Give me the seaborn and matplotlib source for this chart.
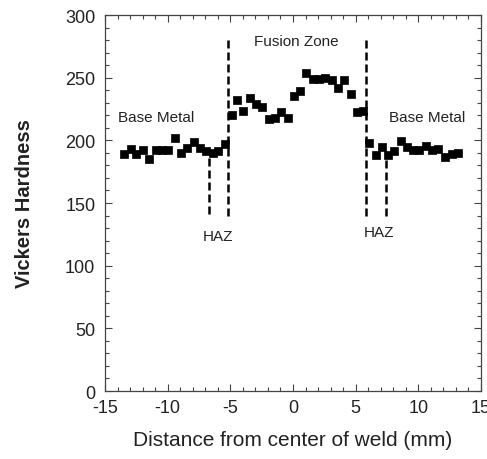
import matplotlib
matplotlib.use("Agg")
import matplotlib.pyplot as plt
from matplotlib.ticker import MultipleLocator
import seaborn as sns
import pandas as pd

# Microhardness traverse across the weld
distance_mm = [-13.5, -12.95, -12.5, -12.0, -11.47, -10.93, -10.48, -9.95, -9.42,
               -8.94, -8.44, -7.9, -7.42, -6.94, -6.4, -5.96, -5.43, -4.89,
               -4.44, -3.97, -3.43, -2.95, -2.45, -1.92, -1.44, -0.96, -0.42,
               0.08, 0.56, 1.07, 1.6, 2.08, 2.58, 3.09, 3.57, 4.1, 4.6, 5.08,
               5.6, 6.09, 6.6, 7.08, 7.6, 8.09, 8.6, 9.07, 9.55, 10.06, 10.59,
               11.07, 11.6, 12.13, 12.67, 13.2]
hardness_hv = [189, 193, 189, 192, 185, 192, 192, 192, 202,
               190, 193.5, 199, 193.5, 191.6, 190, 191.6, 197, 220,
               232, 223.5, 233.7, 228.8, 227, 217, 217.5, 223, 217.5,
               235.5, 239.5, 254, 249, 249, 249.6, 248, 242, 248, 237, 222.8,
               223.3, 198, 188.7, 194.8, 188.7, 191.6, 199.6, 194.3, 192.5, 192.5, 195.4,
               192.5, 193, 186.8, 189, 190.3]

# Zone boundaries (dashed markers)
boundary_x = [-6.7, -5.2, 5.85, 7.4]
boundary_top = [190, 282, 281, 189]
boundary_bottom = [141, 140, 140, 140]

# Annotations
label_text = ["Base Metal", "Fusion Zone", "Base Metal", "HAZ", "HAZ"]
label_x = [-10.9, 0.3, 10.7, -6.0, 6.9]
label_y = [218.5, 279, 218.5, 123.6, 127]

df = pd.DataFrame({"distance": distance_mm, "hardness": hardness_hv})

sns.set_theme(style="ticks")
plt.rcParams["font.family"] = ["Liberation Sans", "DejaVu Sans"]
plt.rcParams["axes.unicode_minus"] = False

fig = plt.figure(figsize=(4.87, 4.60), dpi=100)
ax = fig.add_axes([0.2156, 0.1478, 0.7721, 0.8174])

sns.scatterplot(data=df, x="distance", y="hardness", marker="s", s=36,
                color="black", edgecolor="black", linewidth=0.5, ax=ax, zorder=3)

for bx, top, bot in zip(boundary_x, boundary_top, boundary_bottom):
    ax.plot([bx, bx], [bot, top], color="black", lw=1.8,
            linestyle=(0, (3.2, 1.6)), zorder=2)

for t, x, y in zip(label_text, label_x, label_y):
    ax.text(x, y, t, ha="center", va="center", fontsize=11, color="#222222")

ax.set_xlim(-15, 15)
ax.set_ylim(0, 300)
ax.xaxis.set_major_locator(MultipleLocator(5))
ax.xaxis.set_minor_locator(MultipleLocator(1))
ax.yaxis.set_major_locator(MultipleLocator(50))
ax.yaxis.set_minor_locator(MultipleLocator(10))
ax.tick_params(which="both", direction="in", top=True, right=True,
               color="#444444", width=0.8)
ax.tick_params(which="major", length=5, labelsize=13, labelcolor="#222222")
ax.tick_params(axis="y", which="major", pad=7)
ax.tick_params(axis="x", which="major", pad=6)
ax.tick_params(which="minor", length=3)
for sp in ax.spines.values():
    sp.set_color("#444444")
    sp.set_linewidth(0.9)

ax.set_xlabel("Distance from center of weld (mm)", fontsize=15,
              color="#222222", labelpad=10)
ax.set_ylabel("Vickers Hardness", fontsize=14.5, fontweight="bold",
              color="#222222", labelpad=22)

fig.savefig("out.png", dpi=100)
